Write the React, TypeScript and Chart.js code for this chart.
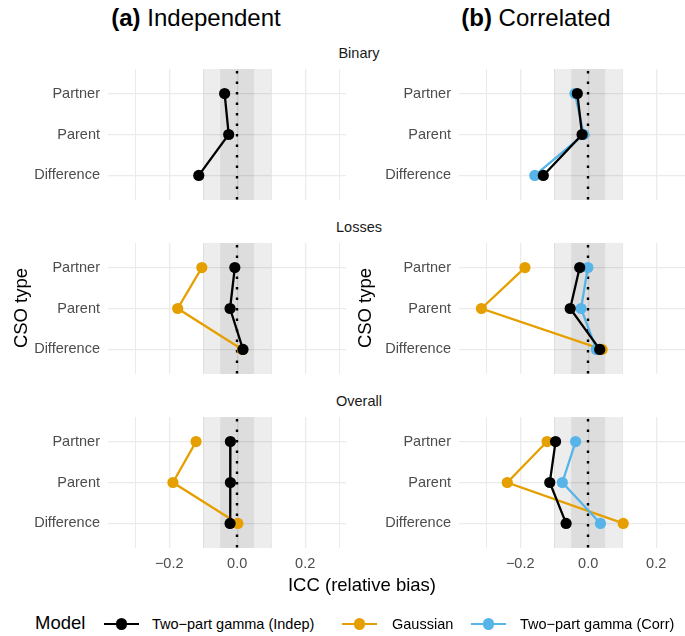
import React, { useEffect, useRef } from "react";
import { Chart, registerables } from "chart.js";

Chart.register(...registerables);

// ---------- data ----------
const cso_types = ["Partner", "Parent", "Difference"];
const row_facets = ["Binary", "Losses", "Overall"];
const model_names = ["Two\u2212part gamma (Indep)", "Gaussian", "Two\u2212part gamma (Corr)"];
const model_colors = ["#000000", "#E69F00", "#56B4E9"];
const x_grid_values = [-0.3, -0.2, -0.1, 0, 0.1, 0.2, 0.3];
const x_tick_labels = ["\u22120.2", "0.0", "0.2"];
const x_tick_values = [-0.2, 0, 0.2];
const band_outer = 0.1;
const band_inner = 0.05;
const x_min = -0.38;
const x_max = 0.32;

// (a) Independent
const binary_indep_gamma = [-0.037, -0.025, -0.113];
const losses_indep_gamma = [-0.007, -0.021, 0.017];
const losses_indep_gaussian = [-0.104, -0.175, 0.015];
const overall_indep_gamma = [-0.02, -0.02, -0.021];
const overall_indep_gaussian = [-0.121, -0.189, 0.002];

// (b) Correlated
const binary_corr_indep_gamma = [-0.032, -0.018, -0.132];
const binary_corr_corr_gamma = [-0.039, -0.013, -0.157];
const losses_corr_indep_gamma = [-0.025, -0.053, 0.034];
const losses_corr_gaussian = [-0.186, -0.314, 0.041];
const losses_corr_corr_gamma = [-0.001, -0.021, 0.024];
const overall_corr_indep_gamma = [-0.096, -0.113, -0.065];
const overall_corr_gaussian = [-0.121, -0.238, 0.103];
const overall_corr_corr_gamma = [-0.037, -0.076, 0.036];

type Series = { model: number; values: number[] };

// draw order: black, blue, orange (orange on top)
const independent_panels: Series[][] = [
  [{ model: 0, values: binary_indep_gamma }],
  [
    { model: 0, values: losses_indep_gamma },
    { model: 1, values: losses_indep_gaussian },
  ],
  [
    { model: 0, values: overall_indep_gamma },
    { model: 1, values: overall_indep_gaussian },
  ],
];
const correlated_panels: Series[][] = [
  [
    { model: 0, values: binary_corr_indep_gamma },
    { model: 2, values: binary_corr_corr_gamma },
  ],
  [
    { model: 0, values: losses_corr_indep_gamma },
    { model: 2, values: losses_corr_corr_gamma },
    { model: 1, values: losses_corr_gaussian },
  ],
  [
    { model: 0, values: overall_corr_indep_gamma },
    { model: 2, values: overall_corr_corr_gamma },
    { model: 1, values: overall_corr_gaussian },
  ],
];

// ---------- layout ----------
const FONT = "'Liberation Sans', Arial, Helvetica, sans-serif";
const PANEL_TOPS = [69, 243, 417];
const PANEL_H = 131;
const PANEL_W = 238;
const X_AXIS_H = 30;

const bandPlugin = {
  id: "bands",
  beforeDatasetsDraw(chart: any) {
    const { ctx, chartArea, scales } = chart;
    const x = scales.x;
    ctx.save();
    ctx.fillStyle = "rgba(0,0,0,0.07)";
    for (const b of [band_outer, band_inner]) {
      const x0 = x.getPixelForValue(-b);
      const x1 = x.getPixelForValue(b);
      ctx.fillRect(x0, chartArea.top, x1 - x0, chartArea.bottom - chartArea.top);
    }
    const zx = Math.round(x.getPixelForValue(0));
    ctx.strokeStyle = "#000";
    ctx.lineWidth = 2.4;
    ctx.setLineDash([2.4, 8.1]);
    ctx.lineCap = "butt";
    ctx.beginPath();
    ctx.moveTo(zx, chartArea.top + 2);
    ctx.lineTo(zx, chartArea.bottom);
    ctx.stroke();
    ctx.restore();
  },
};

function Panel(props: {
  left: number;
  top: number;
  yAxisW: number;
  series: Series[];
  bottom: boolean;
}) {
  const ref = useRef<HTMLCanvasElement>(null);
  const { left, top, yAxisW, series, bottom } = props;
  const w = yAxisW + PANEL_W;
  const h = PANEL_H + (bottom ? X_AXIS_H : 0);
  useEffect(() => {
    const chart = new Chart(ref.current as HTMLCanvasElement, {
      type: "scatter",
      data: {
        datasets: series.map((s) => ({
          label: model_names[s.model],
          data: s.values.map((v, i) => ({ x: v, y: i })),
          showLine: true,
          borderColor: model_colors[s.model],
          backgroundColor: model_colors[s.model],
          borderWidth: 2.3,
          pointRadius: 5.6,
          pointBorderWidth: 0,
          pointHoverRadius: 5.6,
          tension: 0,
        })),
      },
      options: {
        responsive: false,
        maintainAspectRatio: false,
        animation: false,
        devicePixelRatio: 1,
        layout: { padding: 0, autoPadding: false },
        plugins: { legend: { display: false }, tooltip: { enabled: false } },
        events: [],
        scales: {
          x: {
            type: "linear",
            min: x_min,
            max: x_max,
            afterBuildTicks: (scale: any) => {
              scale.ticks = x_grid_values.map((v) => ({ value: v }));
            },
            afterFit: (scale: any) => {
              scale.height = bottom ? X_AXIS_H : 0;
              scale.paddingLeft = 0;
              scale.paddingRight = 0;
            },
            grid: {
              color: "#EBEBEB",
              lineWidth: (c: any) =>
                x_tick_values.some((t) => Math.abs(t - c.tick?.value) < 1e-9) ? 1.3 : 1.0,
              drawTicks: false,
            },
            border: { display: false },
            ticks: {
              display: bottom,
              padding: 7,
              maxRotation: 0,
              autoSkip: false,
              color: "#4D4D4D",
              font: { family: FONT, size: 14.5 },
              callback: (v: any) => {
                const idx = x_tick_values.findIndex((t) => Math.abs(t - Number(v)) < 1e-9);
                return idx >= 0 ? x_tick_labels[idx] : "";
              },
            },
          },
          y: {
            type: "linear",
            min: -0.6,
            max: 2.6,
            reverse: true,
            afterBuildTicks: (scale: any) => {
              scale.ticks = cso_types.map((_, i) => ({ value: i }));
            },
            afterFit: (scale: any) => {
              scale.width = yAxisW;
              scale.paddingTop = 0;
              scale.paddingBottom = 0;
            },
            grid: { color: "#EBEBEB", lineWidth: 1.3, drawTicks: false },
            border: { display: false },
            ticks: {
              padding: 8,
              color: "#4D4D4D",
              font: { family: FONT, size: 14.5 },
              callback: (v: any) => cso_types[Number(v)] ?? "",
            },
          },
        },
      } as any,
      plugins: [bandPlugin],
    });
    return () => chart.destroy();
  }, []);
  return (
    <canvas
      ref={ref}
      width={w}
      height={h}
      style={{ position: "absolute", left, top, width: w, height: h }}
    />
  );
}

const abs = (l: number, t: number): React.CSSProperties => ({
  position: "absolute",
  left: l,
  top: t,
  whiteSpace: "nowrap",
  fontFamily: FONT,
  lineHeight: 1,
});

function LegendKey({ left, color }: { left: number; color: string }) {
  return (
    <div style={{ position: "absolute", left, top: 612, width: 35, height: 24 }}>
      <div
        style={{
          position: "absolute",
          left: 0,
          top: 11,
          width: 35,
          height: 2.3,
          background: color,
        }}
      />
      <div
        style={{
          position: "absolute",
          left: 17.5 - 5.6,
          top: 12 - 5.6,
          width: 11.2,
          height: 11.2,
          borderRadius: "50%",
          background: color,
        }}
      />
    </div>
  );
}

export default function App() {
  const legendKeyLefts = [104, 342, 471];
  const legendTextLefts = [152, 392, 520];
  return (
    <div
      style={{
        position: "fixed",
        left: 0,
        top: 0,
        width: 685,
        height: 636,
        overflow: "hidden",
        background: "#fff",
      }}
    >
      {/* column titles */}
      <div style={{ ...abs(0, 6), width: 392, textAlign: "center", fontSize: 24 }}>
        <b>(a)</b> Independent
      </div>
      <div style={{ ...abs(340, 6), width: 392, textAlign: "center", fontSize: 24 }}>
        <b>(b)</b> Correlated
      </div>

      {/* facet strips */}
      {row_facets.map((f, r) => (
        <div
          key={f}
          style={{
            ...abs(259, PANEL_TOPS[r] - 23),
            width: 200,
            textAlign: "center",
            fontSize: 14.5,
            color: "#1A1A1A",
          }}
        >
          {f}
        </div>
      ))}

      {/* panels */}
      {independent_panels.map((s, r) => (
        <Panel key={"a" + r} left={0} top={PANEL_TOPS[r]} yAxisW={108} series={s} bottom={r === 2} />
      ))}
      {correlated_panels.map((s, r) => (
        <Panel key={"b" + r} left={350} top={PANEL_TOPS[r]} yAxisW={109} series={s} bottom={r === 2} />
      ))}

      {/* y-axis titles */}
      {[22, 366].map((cx, i) => (
        <div
          key={i}
          style={{
            ...abs(cx - 60, 308 - 10),
            width: 120,
            height: 20,
            textAlign: "center",
            fontSize: 18.5,
            transform: "rotate(-90deg)",
          }}
        >
          CSO type
        </div>
      ))}

      {/* x-axis title */}
      <div style={{ ...abs(262, 576), width: 200, textAlign: "center", fontSize: 18.5 }}>
        ICC (relative bias)
      </div>

      {/* legend */}
      <div style={{ ...abs(35, 614), fontSize: 18.5 }}>Model</div>
      {model_names.map((m, i) => (
        <React.Fragment key={m}>
          <LegendKey left={legendKeyLefts[i]} color={model_colors[i]} />
          <div style={{ ...abs(legendTextLefts[i], 617), fontSize: 14.5 }}>{m}</div>
        </React.Fragment>
      ))}
    </div>
  );
}
